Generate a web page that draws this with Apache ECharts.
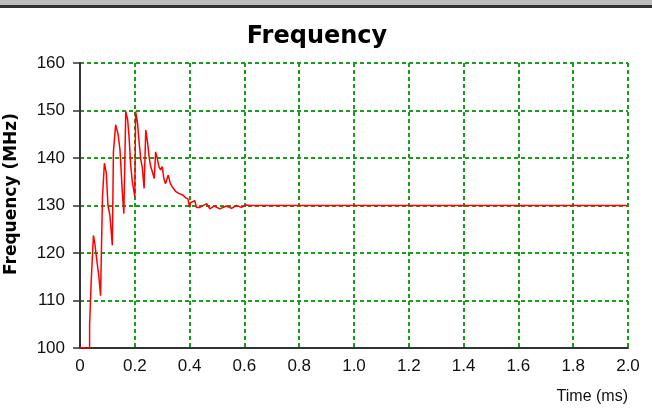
<!DOCTYPE html>
<html><head><meta charset="utf-8">
<script src="https://cdn.jsdelivr.net/npm/echarts@6/dist/echarts.min.js"></script>
<style>html,body{margin:0;padding:0;background:#fff}#c{width:652px;height:410px}</style>
</head><body><div id="c"></div>
<script>
const times = [0,0.035,0.035,0.041,0.049,0.054,0.063,0.069,0.075,0.082,0.089,0.096,0.102,0.109,0.118,0.122,0.13,0.139,0.146,0.154,0.16,0.167,0.174,0.179,0.185,0.191,0.2,0.203,0.21,0.215,0.222,0.227,0.234,0.24,0.247,0.252,0.258,0.264,0.271,0.276,0.283,0.288,0.294,0.3,0.306,0.312,0.322,0.33,0.337,0.35,0.362,0.375,0.386,0.394,0.4,0.403,0.419,0.425,0.437,0.462,0.468,0.474,0.49,0.51,0.534,0.553,0.571,0.589,0.607,0.62,2.0];
const freqs = [100,100,104.7,114.2,123.7,122,117.7,115,111,131.8,138.9,136.8,130,128,121.6,141.3,147,145,141.7,133.2,128.3,149.8,148,144.5,138.5,135,131.8,149.8,147.3,143.8,139.6,138.2,133.6,145.9,143.1,140.3,138.2,137.1,135.7,141.3,139.6,138.2,137.5,138.2,135.7,134.6,136.4,134.6,133.9,132.9,132.5,132.2,131.6,131.4,129.6,130.6,131,129.6,129.6,130.4,130.4,129.3,129.9,129.3,129.9,129.4,130,129.6,130.1,130,130];
const xTicks = ['0','0.2','0.4','0.6','0.8','1.0','1.2','1.4','1.6','1.8','2.0'];
const titleText = 'Frequency';
const yName = 'Frequency (MHz)';
const xName = 'Time (ms)';

const chart = echarts.init(document.getElementById('c'));
const gridStyle = {color:'#1c9c1c', width:2, type:[4,3]};
chart.setOption({
  animation:false,
  grid:{left:80,right:24,top:63,bottom:62},
  xAxis:{type:'value',min:0,max:2,interval:0.2,
    axisLine:{lineStyle:{color:'#333',width:2}},
    axisTick:{show:false},
    splitLine:{show:true,lineStyle:gridStyle},
    axisLabel:{fontFamily:'Liberation Sans',fontSize:17,color:'#111',margin:10,
      formatter:(v)=>xTicks[Math.round(v/0.2)]}},
  yAxis:{type:'value',min:100,max:160,interval:10,
    axisLine:{show:true,lineStyle:{color:'#333',width:2}},
    axisTick:{show:true,length:7,lineStyle:{color:'#333',width:1.5}},
    splitLine:{show:true,lineStyle:gridStyle},
    axisLabel:{fontFamily:'Liberation Sans',fontSize:17,color:'#111',margin:15}},
  graphic:[
    {type:'rect',shape:{x:0,y:0,width:652,height:5},style:{fill:'#bdbdbd'}},
    {type:'rect',shape:{x:0,y:5,width:652,height:3},style:{fill:'#333'}},
    {type:'text',x:317,y:37,style:{text:titleText,font:'bold 24px "DejaVu Sans"',fill:'#000',textAlign:'center',textVerticalAlign:'middle'}},
    {type:'text',x:12,y:194,rotation:Math.PI/2,style:{text:yName,font:'bold 17px "DejaVu Sans"',fill:'#000',textAlign:'center',textVerticalAlign:'middle'}},
    {type:'text',x:628,y:397,style:{text:xName,font:'16px "Liberation Sans"',fill:'#111',textAlign:'right',textVerticalAlign:'middle'}}
  ],
  series:[{type:'line',data:times.map((t,i)=>[t,freqs[i]]),showSymbol:false,
    lineStyle:{color:'#ff0000',width:1.5},z:5}]
});
</script></body></html>
